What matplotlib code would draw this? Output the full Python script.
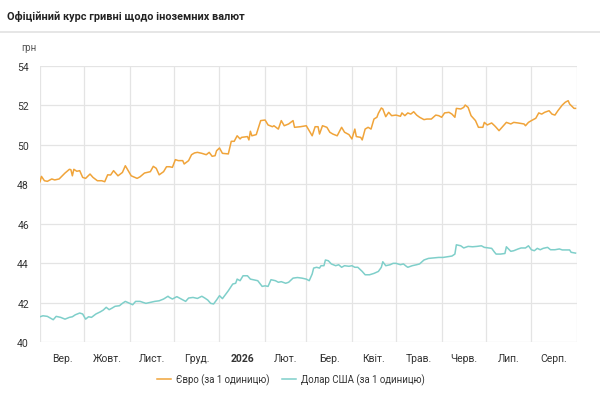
"""Official hryvnia exchange rate vs EUR and USD, Sep 2025 - Aug 2026."""
import matplotlib

matplotlib.use("Agg")
import matplotlib.pyplot as plt
import numpy as np
import pandas as pd
from matplotlib.lines import Line2D

plt.rcParams["font.family"] = ["Roboto", "DejaVu Sans"]

START = pd.Timestamp("2025-09-01")

# day offsets from START and rates (UAH per 1 unit)
EUR_DAYS = [0, 1, 3, 5, 8, 10, 13, 17, 20, 21, 22, 23, 25, 27, 29, 31, 34, 36, 39, 42,
            44, 46, 48, 50, 53, 56, 58, 60, 62, 66, 68, 71, 75, 77, 79, 81, 84, 86, 88, 90,
            92, 94, 97, 98, 101, 103, 105, 107, 110, 113, 115, 117, 119, 120, 122, 124, 128, 130, 132, 134,
            136, 137, 141, 142, 143, 144, 147, 150, 153, 155, 158, 159, 162, 164, 166, 169, 172, 173, 177, 181,
            184, 185, 187, 189, 190, 192, 195, 197, 199, 202, 205, 207, 210, 212, 214, 215, 218, 219, 221, 223,
            225, 227, 229, 230, 232, 233, 235, 237, 239, 242, 245, 246, 248, 250, 252, 254, 256, 258, 261, 263,
            266, 269, 271, 273, 275, 278, 280, 282, 283, 286, 288, 289, 291, 293, 296, 298, 301, 302, 304, 307,
            309, 310, 312, 314, 317, 320, 322, 325, 329, 330, 332, 334, 337, 339, 341, 343, 346, 348, 350, 352,
            355, 357, 359, 360, 363, 364]
EUR_RATE = [48.13, 48.40, 48.18, 48.15, 48.27, 48.22, 48.27, 48.57, 48.76, 48.74, 48.43, 48.76, 48.66, 48.69, 48.35, 48.30, 48.52, 48.35, 48.18, 48.18,
            48.13, 48.48, 48.47, 48.69, 48.43, 48.60, 48.94, 48.69, 48.43, 48.30, 48.38, 48.57, 48.64, 48.91, 48.81, 48.48, 48.64, 48.89, 48.89, 48.86,
            49.25, 49.20, 49.20, 49.03, 49.20, 49.50, 49.59, 49.62, 49.57, 49.50, 49.62, 49.42, 49.45, 49.70, 49.84, 49.57, 49.54, 50.18, 50.18, 50.46,
            50.30, 50.38, 50.42, 50.25, 50.69, 50.46, 50.52, 51.23, 51.26, 51.01, 50.92, 50.97, 50.80, 51.23, 50.97, 51.06, 51.23, 50.89, 50.92, 50.97,
            50.58, 50.46, 50.92, 50.92, 50.55, 50.97, 50.89, 50.64, 50.55, 50.46, 50.89, 50.64, 50.52, 50.30, 50.80, 50.42, 50.38, 50.25, 50.80, 50.89,
            50.80, 51.31, 51.40, 51.60, 51.87, 51.82, 51.43, 51.65, 51.48, 51.51, 51.45, 51.62, 51.48, 51.62, 51.56, 51.68, 51.51, 51.40, 51.28, 51.31,
            51.31, 51.51, 51.48, 51.40, 51.62, 51.65, 51.56, 51.40, 51.85, 51.82, 51.90, 52.02, 51.90, 51.48, 51.23, 50.89, 50.89, 51.14, 51.01, 51.11,
            50.97, 50.89, 50.72, 50.89, 51.14, 51.06, 51.14, 51.11, 51.06, 50.97, 51.14, 51.23, 51.35, 51.62, 51.56, 51.65, 51.73, 51.56, 51.51, 51.73,
            52.02, 52.16, 52.24, 52.07, 51.85, 51.85]

USD_DAYS = [0, 2, 5, 9, 11, 14, 17, 20, 22, 24, 27, 29, 31, 33, 35, 38, 41, 43, 45, 47,
            49, 51, 54, 56, 58, 61, 63, 65, 68, 70, 72, 75, 78, 81, 84, 87, 88, 90, 93, 96,
            99, 101, 104, 107, 110, 112, 114, 116, 118, 120, 122, 124, 128, 131, 133, 134, 136, 138, 141, 143,
            146, 148, 151, 153, 155, 157, 160, 162, 164, 167, 169, 172, 175, 178, 181, 183, 185, 186, 188, 190,
            191, 193, 194, 196, 198, 201, 203, 205, 207, 210, 212, 214, 216, 219, 221, 224, 227, 230, 232, 233,
            235, 238, 240, 242, 245, 247, 249, 250, 253, 256, 258, 261, 264, 267, 271, 274, 278, 280, 282, 283,
            286, 288, 291, 294, 297, 300, 302, 305, 307, 309, 310, 313, 316, 317, 320, 322, 325, 327, 330, 332,
            334, 336, 338, 340, 342, 345, 347, 350, 353, 355, 357, 360, 361, 364]
USD_RATE = [41.28, 41.33, 41.30, 41.13, 41.30, 41.25, 41.16, 41.25, 41.28, 41.38, 41.47, 41.42, 41.16, 41.28, 41.25, 41.42, 41.53, 41.62, 41.76, 41.64,
            41.72, 41.81, 41.84, 41.96, 42.06, 41.96, 41.89, 42.06, 42.06, 42.01, 41.96, 42.01, 42.06, 42.09, 42.18, 42.32, 42.26, 42.18, 42.30, 42.18,
            42.06, 42.23, 42.26, 42.21, 42.32, 42.23, 42.13, 41.96, 41.93, 42.13, 42.35, 42.20, 42.60, 42.94, 42.98, 43.19, 43.11, 43.36, 43.36, 43.19,
            43.14, 43.11, 42.82, 42.85, 42.82, 43.16, 43.11, 43.03, 43.06, 42.98, 43.03, 43.24, 43.27, 43.24, 43.19, 43.11, 43.45, 43.75, 43.79, 43.75,
            43.87, 43.87, 44.16, 44.12, 43.96, 43.87, 43.92, 43.79, 43.87, 43.84, 43.87, 43.79, 43.79, 43.58, 43.41, 43.41, 43.48, 43.58, 43.79, 44.07,
            43.87, 43.92, 43.99, 43.99, 43.92, 43.96, 43.84, 43.79, 43.87, 43.92, 43.96, 44.16, 44.24, 44.26, 44.29, 44.29, 44.34, 44.36, 44.46, 44.93,
            44.88, 44.77, 44.85, 44.83, 44.85, 44.88, 44.80, 44.77, 44.75, 44.55, 44.46, 44.46, 44.49, 44.83, 44.60, 44.63, 44.72, 44.77, 44.77, 44.88,
            44.68, 44.63, 44.75, 44.68, 44.75, 44.80, 44.68, 44.68, 44.72, 44.67, 44.67, 44.67, 44.55, 44.51]

MONTH_LABELS = ["Вер.", "Жовт.", "Лист.", "Груд.", "2026", "Лют.", "Бер.",
                "Квіт.", "Трав.", "Черв.", "Лип.", "Серп."]
EUR_COLOR = "#f0a43a"
USD_COLOR = "#7fcfca"

eur_dates = START + pd.to_timedelta(EUR_DAYS, unit="D")
usd_dates = START + pd.to_timedelta(USD_DAYS, unit="D")

fig = plt.figure(figsize=(6.0, 4.02), dpi=100)
ax = fig.add_axes([40 / 600, 59 / 402, 537 / 600, 276 / 402])

ax.plot(eur_dates, EUR_RATE, color=EUR_COLOR, lw=1.1, label="Євро (за 1 одиницю)")
ax.plot(usd_dates, USD_RATE, color=USD_COLOR, lw=1.1, label="Долар США (за 1 одиницю)")

# gridlines on month starts, labels centred inside each month
month_starts = pd.date_range(START, periods=13, freq="MS")
ax.set_xlim(month_starts[0], month_starts[-1])
ax.set_ylim(40, 54)
ax.set_yticks(np.arange(40, 55, 2))
ax.set_xticks(month_starts)
ax.set_xticklabels([])
mids = month_starts[:-1] + (month_starts[1:] - month_starts[:-1]) / 2
ax.set_xticks(mids, minor=True)
ax.set_xticklabels(MONTH_LABELS, minor=True)
for lab in ax.get_xticklabels(minor=True):
    if lab.get_text() == "2026":
        lab.set_fontweight("bold")

ax.grid(True, which="major", color="#e4e4e4", lw=0.9)
ax.set_axisbelow(True)
for s in ax.spines.values():
    s.set_visible(False)
ax.tick_params(axis="both", which="both", length=0, labelsize=7.5, labelcolor="#333333")
ax.tick_params(axis="x", which="minor", pad=8)
ax.tick_params(axis="y", pad=8)

ax.text(-0.034, 1.05, "грн", transform=ax.transAxes, fontsize=7, color="#555555",
        ha="left", va="bottom")

fig.text(7 / 600, 1 - 17 / 402, "Офіційний курс гривні щодо іноземних валют",
         fontsize=7.8, fontweight="bold", color="#222222", va="center")
fig.add_artist(Line2D([0, 1], [1 - 33 / 402] * 2, color="#e2e2e2", lw=1.2,
                      transform=fig.transFigure))

fig.legend(loc="center", bbox_to_anchor=(0.485, 1 - 380 / 402), ncol=2, frameon=False,
           fontsize=6.9, handlelength=1.5, handletextpad=0.5, columnspacing=1.3,
           labelcolor="#333333")

fig.savefig("out.png", dpi=100)
